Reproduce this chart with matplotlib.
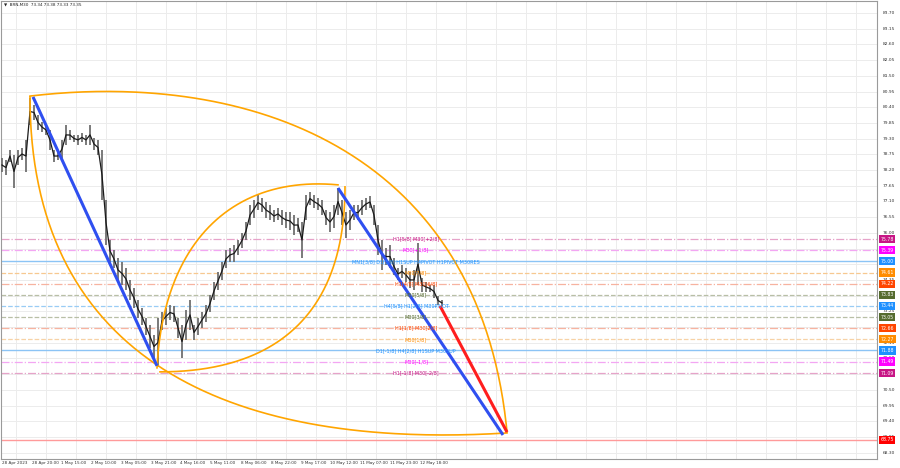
import numpy as np
import matplotlib
matplotlib.use("Agg")
import matplotlib.pyplot as plt
from matplotlib.transforms import blended_transform_factory

plt.rcParams['font.family'] = ['DejaVu Sans']

# price bars (grouped M30 bars), highs and lows
bar_hi = [78.62, 78.55, 78.90, 78.73, 78.90, 78.97, 79.25, 80.72, 80.48, 80.13,
          79.88, 79.78, 79.60, 78.90, 78.83, 79.25, 79.78, 79.60, 79.43, 79.43,
          79.50, 79.43, 79.78, 79.32, 79.25, 78.90, 77.15, 75.75, 75.40, 75.12,
          74.98, 74.77, 74.35, 74.07, 73.65, 73.37, 73.02, 72.77, 72.42, 73.02,
          73.23, 73.37, 73.47, 73.44, 73.02, 72.77, 73.30, 73.65, 72.77, 73.02,
          73.23, 73.47, 73.82, 74.28, 74.63, 74.98, 75.40, 75.47, 75.57, 75.75,
          75.99, 76.38, 76.97, 77.15, 77.32, 77.22, 77.08, 76.97, 76.80, 76.87,
          76.80, 76.73, 76.73, 76.62, 76.52, 76.38, 77.32, 77.43, 77.32, 77.22,
          77.15, 76.80, 76.73, 76.97, 77.57, 77.15, 76.73, 76.80, 76.97, 76.97,
          77.15, 77.22, 77.29, 76.97, 76.27, 75.75, 75.47, 75.57, 75.12, 74.77,
          74.87, 74.77, 74.63, 74.70, 75.64, 74.42, 74.28, 74.17, 74.17, 73.79,
          73.65]
bar_lo = [78.13, 78.02, 78.48, 77.57, 78.38, 78.55, 78.13, 79.78, 79.95, 79.60,
          79.53, 79.43, 78.90, 78.48, 78.55, 78.62, 79.08, 79.25, 79.18, 79.08,
          79.18, 79.08, 79.08, 78.90, 78.73, 77.15, 75.57, 74.98, 74.77, 74.28,
          74.17, 74.00, 73.65, 73.37, 73.02, 72.77, 72.42, 71.97, 71.62, 71.30,
          72.60, 72.77, 72.95, 72.88, 72.32, 71.62, 72.25, 72.60, 72.25, 72.42,
          72.67, 72.88, 73.23, 73.65, 74.00, 74.35, 74.77, 74.98, 74.98, 75.22,
          75.47, 75.75, 76.27, 76.52, 76.80, 76.73, 76.52, 76.45, 76.38, 76.45,
          76.27, 76.17, 76.10, 75.92, 76.03, 75.12, 76.45, 76.97, 76.87, 76.80,
          76.62, 76.27, 76.03, 76.17, 76.62, 76.27, 75.82, 76.10, 76.45, 76.45,
          76.62, 76.80, 76.87, 76.27, 75.22, 74.70, 74.87, 74.77, 74.52, 74.35,
          74.42, 74.28, 74.07, 74.00, 74.17, 73.93, 73.93, 73.93, 73.72, 73.47,
          73.44]

time_labels = ['28 Apr 2023', '28 Apr 20:00', '1 May 15:00', '2 May 10:00', '3 May 05:00',
               '3 May 21:00', '4 May 16:00', '5 May 11:00', '8 May 06:00', '8 May 22:00',
               '9 May 17:00', '10 May 12:00', '11 May 07:00', '11 May 23:00', '12 May 18:00']
time_pos = [1, 31, 60, 90, 120, 150, 179, 209, 240, 270, 300, 329, 359, 389, 419]

price_ticks = [83.70, 83.15, 82.60, 82.05, 81.50, 80.95, 80.40, 79.85, 79.30, 78.75,
               78.20, 77.65, 77.10, 76.55, 76.00, 75.45, 74.90, 74.35, 73.80, 73.25,
               72.70, 72.15, 71.60, 71.05, 70.50, 69.95, 69.40, 68.85, 68.30]

# murrey levels: price, label, text colour, line colour, line style
lvl_price = [75.78, 75.39, 75.00, 74.61, 74.22, 73.83, 73.44, 73.05, 72.66, 72.27, 71.88, 71.49, 71.09]
lvl_text = ['H1[5/8] M30[+2/8]', 'M30[+1/8]', 'MN1[3/8] D1[3/8] H1SUP H4PIVOT H1PIVOT M30RES',
            'M30[7/8]', 'H1[4/8] M30[6/8]', 'M30[5/8]', 'H4[5/8] H1[2/8] M30PIVOT',
            'M30[3/8]', 'H1[1/8] M30[2/8]', 'M30[1/8]', 'D1[-1/8] H4[2/8] H1SUP M30SUP',
            'M30[-1/8]', 'H1[-1/8] M30[-2/8]']
lvl_color = ['#c71585', '#ff00ff', '#1e90ff', '#ff8c00', '#ff4500', '#556b2f', '#1e90ff',
             '#556b2f', '#ff4500', '#ff8c00', '#1e90ff', '#ff00ff', '#c71585']
lvl_line = ['#e6a3c9', '#f3a6f3', '#8cc4f5', '#f7c890', '#f7b3a0', '#b8bfa6', '#99ccf5',
            '#b8bfa6', '#f7b3a0', '#f7d2a6', '#8cc4f5', '#f3a6f3', '#e6a3c9']
lvl_style = ['-.', '-.', '-', '--', '-.', '--', '--', '--', '-.', '--', '-', '-.', '-.']

target_price = 68.75

# drawn objects (bar position, price)
arcs = [
    [(29, 80.79), (249, 81.70), (479, 78.90), (506, 69.02)],
    [(29, 80.76), (29, 71.55), (229, 68.39), (506, 68.99)],
    [(156, 71.27), (162, 75.57), (229, 78.03), (337, 77.68)],
    [(159, 71.13), (269, 71.13), (344, 72.95), (344, 77.61)],
]
blue_lines = [[(32, 80.76), (156, 71.34)], [(337, 77.57), (502, 68.92)]]
red_line = [(439, 73.44), (506, 69.02)]

fig = plt.figure(figsize=(9, 4.68), dpi=100)
ax = fig.add_axes([1/900, 9/468, 876/900, 458/468])
ax.set_xlim(0, 876)
ax.set_ylim(68.078, 84.12)
ax.set_xticks([])
ax.set_yticks([])
for s in ax.spines.values():
    s.set_color('#9a9a9a')
    s.set_linewidth(0.8)

# grid
for gx in range(15, 876, 30):
    ax.axvline(gx, color='#ececec', lw=0.7, zorder=0)
for p in price_ticks:
    ax.axhline(p, color='#ececec', lw=0.7, zorder=0)

# levels
for p, c, st in zip(lvl_price, lvl_line, lvl_style):
    ax.axhline(p, color=c, lw=0.9 if st != '-' else 1.0, ls=st, zorder=1)
ax.axhline(target_price, color='#ff9a9a', lw=1.0, zorder=1)

# bars
bx = np.arange(len(bar_hi)) * 4 + 1
hi = np.array(bar_hi)
lo = np.array(bar_lo)
ax.vlines(bx, lo, hi, color='#707070', lw=1.3, zorder=3)
ax.plot(bx, (hi + lo) / 2, color='#1a1a1a', lw=0.9, zorder=4)

# arcs
t = np.linspace(0, 1, 200)[:, None]
for pts in arcs:
    P = np.array(pts)
    B = ((1 - t) ** 3) * P[0] + 3 * ((1 - t) ** 2) * t * P[1] + 3 * (1 - t) * t ** 2 * P[2] + t ** 3 * P[3]
    ax.plot(B[:, 0], B[:, 1], color='#ffa500', lw=1.2, zorder=5)

for ln in blue_lines:
    ax.plot([ln[0][0], ln[1][0]], [ln[0][1], ln[1][1]], color='#2f4ff0', lw=2.2,
            solid_capstyle='butt', zorder=6)
ax.plot([red_line[0][0], red_line[1][0]], [red_line[0][1], red_line[1][1]],
        color='#ff1e1e', lw=2.2, solid_capstyle='butt', zorder=6)

# level labels
for p, txt, c in zip(lvl_price, lvl_text, lvl_color):
    ax.text(415, p, txt, color=c, fontsize=3.5, ha='center', va='center', zorder=7)

# right price axis; ticks fully hidden behind a level box are skipped
tr = blended_transform_factory(ax.transAxes, ax.transData)
box_prices = lvl_price + [target_price]
for p in price_ticks:
    if min(abs(p - b) for b in box_prices) < 0.05:
        continue
    ax.text(1.007, p, f'{p:.2f}', transform=tr, fontsize=3.2, color='#333333',
            ha='left', va='center', clip_on=False, zorder=8)
for p, c in zip(box_prices, lvl_color + ['#ff0000']):
    ax.text(1.004, p, f'{p:.2f}', transform=tr, fontsize=3.3, color='white',
            ha='left', va='center', clip_on=False, zorder=10,
            bbox=dict(boxstyle='square,pad=0.35', fc=c, ec='none'))

# time axis
trx = blended_transform_factory(ax.transData, fig.transFigure)
for pos, lab in zip(time_pos, time_labels):
    ax.text(pos, 1 - 463/468, lab, transform=trx, fontsize=3.0, color='#333333',
            ha='left', va='center', clip_on=False)

fig.text(4/900, 1 - 4.5/468, '\u25bc  BRN,M30  73.34 73.38 73.33 73.35', fontsize=3.0,
         color='#222222', ha='left', va='center')

fig.savefig('out.png', dpi=100, facecolor='white')
